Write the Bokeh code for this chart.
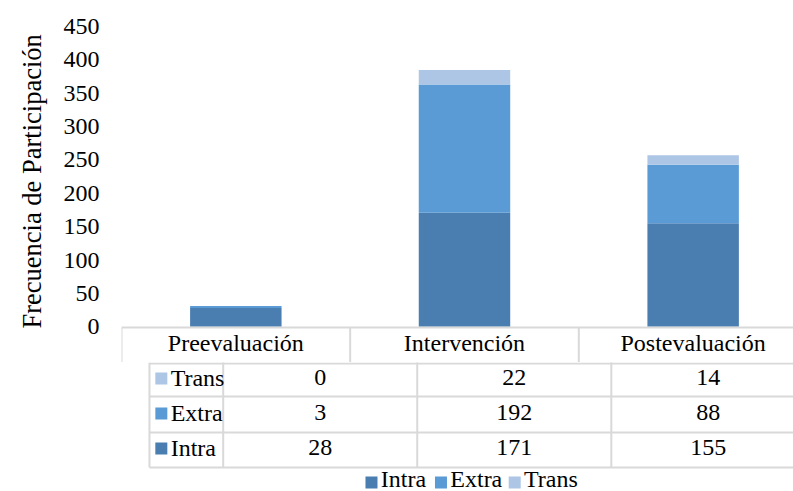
from bokeh.plotting import figure
from bokeh.models import ColumnDataSource, Range1d, FixedTicker, Title, LabelSet
from bokeh.layouts import column
from bokeh.core.properties import value
from bokeh.embed import file_html
from bokeh.resources import INLINE

# ---- data ----
categories = ["Preevaluación", "Intervención", "Postevaluación"]
series = ["Intra", "Extra", "Trans"]
intra = [28, 171, 155]
extra = [3, 192, 88]
trans = [0, 22, 14]
y_ticks = [0, 50, 100, 150, 200, 250, 300, 350, 400, 450]
y_title = "Frecuencia de Participación"

colors = {"Intra": "#4A7EB0", "Extra": "#5B9BD5", "Trans": "#ADC6E6"}
values = {"Intra": intra, "Extra": extra, "Trans": trans}

SERIF = "Liberation Serif"
GRID = "#D9D9D9"

# ---- layout geometry (page pixels) ----
W, H = 793, 491
CAT_PX = 229          # width of one category column
FRAME_L = 120         # left edge of the category area
TOP_H = 362           # chart part, down to the end of the table header row
TOP_MARGIN = 26
ZERO_PX = 326.3       # page y of value 0
Y_MAX = 450
scale = (ZERO_PX - TOP_MARGIN) / Y_MAX
X_END = (W - FRAME_L) / CAT_PX


def vy(page_y):
    """page y -> value axis of the chart part"""
    return (ZERO_PX - page_y) / scale


def cx(page_x):
    """page x -> category axis"""
    return (page_x - FRAME_L) / CAT_PX


def label_set(fig, xs_, ys_, labels, align="center"):
    src_ = ColumnDataSource(dict(x=xs_, y=ys_, text=labels))
    fig.add_layout(LabelSet(x="x", y="y", text="text", source=src_,
                            text_font=value(SERIF), text_font_size=value("24px"),
                            text_align=value(align), text_baseline=value("middle"),
                            text_color=value("black")))


Y_LO = vy(TOP_H)
xs = [i + 0.5 for i in range(len(categories))]

# ---- chart with stacked bars ----
p = figure(width=W, height=TOP_H, x_range=Range1d(0, X_END), y_range=Range1d(Y_LO, Y_MAX),
           output_backend="svg", toolbar_location=None, x_axis_location=None,
           min_border_left=FRAME_L, min_border_right=0, min_border_top=TOP_MARGIN,
           min_border_bottom=0)
p.outline_line_color = None
p.background_fill_color = "white"
p.border_fill_color = "white"
p.xgrid.visible = False
p.ygrid.visible = False

src = ColumnDataSource(dict(x=xs, Intra=intra, Extra=extra, Trans=trans))
p.vbar_stack(series, x="x", width=0.40, source=src,
             fill_color=[colors[s] for s in series], line_color=None)

ax = p.yaxis[0]
ax.ticker = FixedTicker(ticks=y_ticks)
ax.axis_line_color = None
ax.major_tick_line_color = None
ax.minor_tick_line_color = None
ax.major_tick_out = 0
ax.major_tick_in = 0
ax.major_label_standoff = 22
ax.major_label_text_font = SERIF
ax.major_label_text_font_size = "24px"
ax.major_label_text_color = "black"

# vertical axis title, anchored near the value axis rather than the whole frame
p.add_layout(Title(text=y_title, align="left", offset=34, text_font=SERIF,
                   text_font_size="26.5px", text_font_style="normal",
                   text_color="black", standoff=28), "left")

# table top edge and header row (category names)
TBL_TOP = 327
p.segment(x0=[0], y0=[vy(TBL_TOP)], x1=[X_END + 0.2], y1=[vy(TBL_TOP)],
          line_color=GRID, line_width=2)
p.segment(x0=[0, 1, 2], y0=[vy(TBL_TOP)] * 3, x1=[0, 1, 2], y1=[Y_LO - 5] * 3,
          line_color=GRID, line_width=2)
label_set(p, xs, [vy(342.5)] * 3, categories)

# ---- data table rows below the chart ----
t = figure(width=W, height=H - TOP_H, x_range=Range1d(cx(0), X_END), y_range=Range1d(H, TOP_H),
           output_backend="svg", toolbar_location=None,
           min_border_left=0, min_border_right=0, min_border_top=0, min_border_bottom=0)
t.axis.visible = False
t.xgrid.visible = False
t.ygrid.visible = False
t.outline_line_color = None
t.border_fill_color = "white"

row_lines = [363, 396, 432, 467]
key_left = cx(33)
t.segment(x0=[key_left] * 4, y0=row_lines, x1=[X_END + 0.2] * 4, y1=row_lines,
          line_color=GRID, line_width=2)
t.segment(x0=[0, 1, 2], y0=[TOP_H - 2] * 3, x1=[0, 1, 2], y1=[467] * 3,
          line_color=GRID, line_width=2)
t.segment(x0=[key_left], y0=[362], x1=[key_left], y1=[467], line_color=GRID, line_width=2)

# one row per series, top to bottom: Trans, Extra, Intra
row_order = ["Trans", "Extra", "Intra"]
row_mid = [377, 412, 447]
vx, vyv, vt = [], [], []
for name, ym in zip(row_order, row_mid):
    for xi, v in zip(xs, values[name]):
        vx.append(xi)
        vyv.append(ym)
        vt.append(str(v))
label_set(t, vx, vyv, vt)

# legend keys inside the table
t.rect(x=[cx(47)] * 3, y=[m + 1 for m in row_mid], width=12, height=12, width_units="screen",
       height_units="screen", fill_color=[colors[n] for n in row_order], line_color=None)
label_set(t, [cx(58)] * 3, row_mid, row_order, align="left")

# legend along the bottom
leg_key_px = [295, 377, 464]
leg_txt_px = [306, 388, 475]
t.rect(x=[cx(v) for v in leg_key_px], y=[482] * 3, width=12, height=12, width_units="screen",
       height_units="screen", fill_color=[colors[n] for n in series], line_color=None)
label_set(t, [cx(v) for v in leg_txt_px], [478] * 3, series, align="left")

layout = column(p, t, spacing=0)
open("out.html", "w").write(file_html(layout, INLINE))
